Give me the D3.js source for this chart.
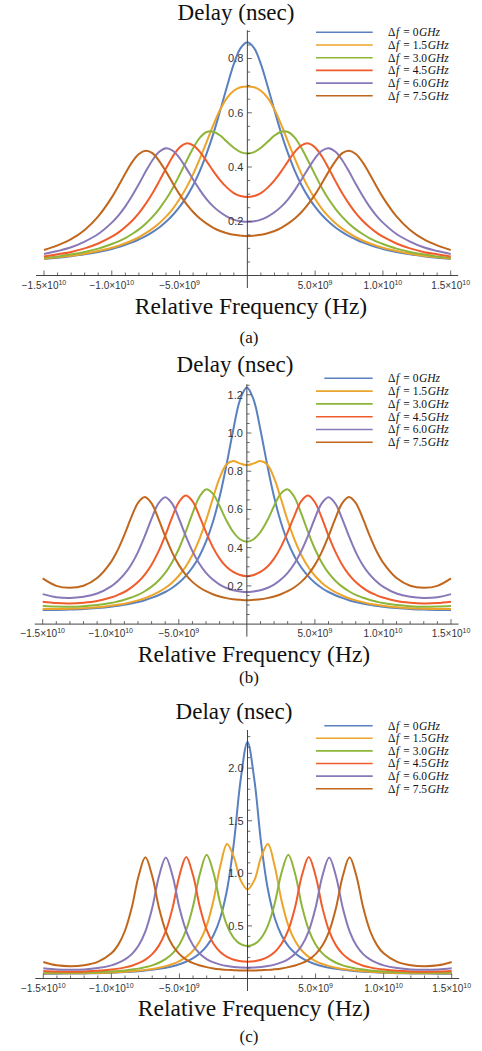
<!DOCTYPE html>
<html>
<head>
<meta charset="utf-8">
<script src="https://cdn.jsdelivr.net/npm/d3@7"></script>
<style>
body{margin:0;background:#fff}
svg{display:block}
.serif{font-family:"Liberation Serif","Times New Roman",Times,serif}
.sans{font-family:"Liberation Sans",Arial,Helvetica,sans-serif}
</style>
</head>
<body>
<svg id="chart" width="482" height="1051"></svg>
<script>
// relative frequency grid (GHz), shared by all three panels
var freqGHz = [-15,-14,-13,-12,-11,-10,-9.5,-9,-8.5,-8,-7.5,-7,-6.5,-6,-5.5,-5,-4.5,-4,-3.5,-3,-2.5,-2,-1.5,-1,-0.5,0,0.5,1,1.5,2,2.5,3,3.5,4,4.5,5,5.5,6,6.5,7,7.5,8,8.5,9,9.5,10,11,12,13,14,15];

// legend entries (Δf in GHz)
var deltaF = ["0", "1.5", "3.0", "4.5", "6.0", "7.5"];

// panel (a) delay, nsec
var blueA   = [0.061,0.065,0.071,0.078,0.087,0.098,0.105,0.113,0.122,0.133,0.145,0.160,0.177,0.198,0.223,0.253,0.289,0.333,0.386,0.450,0.524,0.609,0.697,0.779,0.838,0.860,0.838,0.779,0.697,0.609,0.524,0.450,0.386,0.333,0.289,0.253,0.223,0.198,0.177,0.160,0.145,0.133,0.122,0.113,0.105,0.098,0.087,0.078,0.071,0.065,0.061];
var orangeA = [0.062,0.067,0.073,0.080,0.090,0.102,0.110,0.119,0.129,0.141,0.156,0.173,0.193,0.217,0.246,0.282,0.324,0.374,0.431,0.493,0.556,0.612,0.655,0.681,0.694,0.697,0.694,0.681,0.655,0.612,0.556,0.493,0.431,0.374,0.324,0.282,0.246,0.217,0.193,0.173,0.156,0.141,0.129,0.119,0.110,0.102,0.090,0.080,0.073,0.067,0.062];
var greenA  = [0.065,0.070,0.078,0.087,0.099,0.116,0.126,0.138,0.153,0.170,0.191,0.216,0.246,0.281,0.323,0.371,0.421,0.469,0.508,0.529,0.530,0.516,0.493,0.471,0.455,0.450,0.455,0.471,0.493,0.516,0.530,0.529,0.508,0.469,0.421,0.371,0.323,0.281,0.246,0.216,0.191,0.170,0.153,0.138,0.126,0.116,0.099,0.087,0.078,0.070,0.065];
var redA    = [0.070,0.078,0.087,0.100,0.118,0.143,0.159,0.179,0.202,0.230,0.264,0.303,0.348,0.395,0.439,0.472,0.487,0.480,0.456,0.421,0.384,0.351,0.324,0.304,0.293,0.289,0.293,0.304,0.324,0.351,0.384,0.421,0.456,0.480,0.487,0.472,0.439,0.395,0.348,0.303,0.264,0.230,0.202,0.179,0.159,0.143,0.118,0.100,0.087,0.078,0.070];
var purpleA = [0.079,0.090,0.104,0.125,0.153,0.195,0.222,0.255,0.294,0.337,0.383,0.425,0.456,0.469,0.460,0.433,0.395,0.354,0.315,0.281,0.254,0.233,0.217,0.206,0.200,0.198,0.200,0.206,0.217,0.233,0.254,0.281,0.315,0.354,0.395,0.433,0.460,0.469,0.456,0.425,0.383,0.337,0.294,0.255,0.222,0.195,0.153,0.125,0.104,0.090,0.079];
var brownA  = [0.094,0.111,0.134,0.168,0.218,0.288,0.331,0.376,0.418,0.448,0.460,0.451,0.422,0.383,0.340,0.299,0.264,0.234,0.210,0.191,0.176,0.164,0.156,0.150,0.147,0.145,0.147,0.150,0.156,0.164,0.176,0.191,0.210,0.234,0.264,0.299,0.340,0.383,0.422,0.451,0.460,0.448,0.418,0.376,0.331,0.288,0.218,0.168,0.134,0.111,0.094];

// panel (b)
var blueB   = [0.074,0.074,0.076,0.079,0.084,0.091,0.096,0.101,0.108,0.116,0.125,0.137,0.151,0.168,0.189,0.216,0.251,0.296,0.354,0.431,0.533,0.666,0.832,1.016,1.174,1.238,1.174,1.016,0.832,0.666,0.533,0.431,0.354,0.296,0.251,0.216,0.189,0.168,0.151,0.137,0.125,0.116,0.108,0.101,0.096,0.091,0.084,0.079,0.076,0.074,0.074];
var orangeB = [0.079,0.079,0.080,0.083,0.088,0.096,0.101,0.107,0.115,0.124,0.135,0.150,0.167,0.189,0.217,0.253,0.300,0.362,0.442,0.542,0.657,0.765,0.835,0.854,0.841,0.832,0.841,0.854,0.835,0.765,0.657,0.542,0.442,0.362,0.300,0.253,0.217,0.189,0.167,0.150,0.135,0.124,0.115,0.107,0.101,0.096,0.088,0.083,0.080,0.079,0.079];
var greenB  = [0.095,0.092,0.091,0.094,0.100,0.110,0.118,0.127,0.139,0.153,0.172,0.196,0.227,0.268,0.323,0.393,0.481,0.578,0.664,0.705,0.683,0.618,0.542,0.482,0.444,0.431,0.444,0.482,0.542,0.618,0.683,0.705,0.664,0.578,0.481,0.393,0.323,0.268,0.227,0.196,0.172,0.153,0.139,0.127,0.118,0.110,0.100,0.094,0.091,0.092,0.095];
var redB    = [0.117,0.110,0.108,0.112,0.121,0.139,0.152,0.168,0.191,0.220,0.259,0.311,0.379,0.463,0.557,0.638,0.673,0.644,0.568,0.481,0.403,0.343,0.300,0.273,0.257,0.251,0.257,0.273,0.300,0.343,0.403,0.481,0.568,0.644,0.673,0.638,0.557,0.463,0.379,0.311,0.259,0.220,0.191,0.168,0.152,0.139,0.121,0.112,0.108,0.110,0.117];
var purpleB = [0.157,0.141,0.137,0.143,0.160,0.196,0.224,0.261,0.311,0.377,0.460,0.552,0.631,0.664,0.632,0.554,0.463,0.382,0.317,0.268,0.233,0.207,0.189,0.177,0.171,0.168,0.171,0.177,0.189,0.207,0.233,0.268,0.317,0.382,0.463,0.554,0.632,0.664,0.631,0.552,0.460,0.377,0.311,0.261,0.224,0.196,0.160,0.143,0.137,0.141,0.157];
var brownB  = [0.239,0.200,0.190,0.201,0.241,0.323,0.386,0.467,0.557,0.634,0.665,0.632,0.552,0.460,0.377,0.310,0.259,0.221,0.193,0.172,0.156,0.144,0.136,0.130,0.127,0.125,0.127,0.130,0.136,0.144,0.156,0.172,0.193,0.221,0.259,0.310,0.377,0.460,0.552,0.632,0.665,0.634,0.557,0.467,0.386,0.323,0.241,0.201,0.190,0.200,0.239];

// panel (c)
var blueC   = [0.046,0.046,0.047,0.048,0.051,0.055,0.058,0.061,0.065,0.070,0.076,0.083,0.092,0.103,0.117,0.135,0.160,0.193,0.240,0.308,0.411,0.576,0.846,1.290,1.894,2.248,1.894,1.290,0.846,0.576,0.411,0.308,0.240,0.193,0.160,0.135,0.117,0.103,0.092,0.083,0.076,0.070,0.065,0.061,0.058,0.055,0.051,0.048,0.047,0.046,0.046];
var orangeC = [0.050,0.049,0.049,0.051,0.053,0.058,0.061,0.065,0.070,0.075,0.082,0.091,0.103,0.118,0.138,0.166,0.206,0.264,0.356,0.503,0.742,1.067,1.278,1.153,0.933,0.847,0.933,1.153,1.278,1.067,0.742,0.503,0.356,0.264,0.206,0.166,0.138,0.118,0.103,0.091,0.082,0.075,0.070,0.065,0.061,0.058,0.053,0.051,0.049,0.049,0.050];
var greenC  = [0.057,0.055,0.055,0.056,0.060,0.067,0.071,0.077,0.085,0.094,0.108,0.125,0.150,0.186,0.239,0.323,0.462,0.687,0.994,1.176,1.006,0.713,0.503,0.385,0.326,0.308,0.326,0.385,0.503,0.713,1.006,1.176,0.994,0.687,0.462,0.323,0.239,0.186,0.150,0.125,0.108,0.094,0.085,0.077,0.071,0.067,0.060,0.056,0.055,0.055,0.057];
var redC    = [0.071,0.066,0.065,0.067,0.073,0.085,0.094,0.106,0.122,0.146,0.180,0.232,0.315,0.451,0.674,0.978,1.156,0.981,0.681,0.462,0.330,0.252,0.205,0.178,0.164,0.160,0.164,0.178,0.205,0.252,0.330,0.462,0.681,0.981,1.156,0.978,0.674,0.451,0.315,0.232,0.180,0.146,0.122,0.106,0.094,0.085,0.073,0.067,0.065,0.066,0.071];
var purpleC = [0.097,0.086,0.083,0.086,0.099,0.125,0.148,0.181,0.232,0.314,0.449,0.671,0.973,1.151,0.974,0.672,0.451,0.316,0.235,0.185,0.153,0.132,0.118,0.109,0.104,0.103,0.104,0.109,0.118,0.132,0.153,0.185,0.235,0.316,0.451,0.672,0.974,1.151,0.973,0.671,0.449,0.314,0.232,0.181,0.148,0.125,0.099,0.086,0.083,0.086,0.097];
var brownC  = [0.157,0.125,0.117,0.126,0.158,0.239,0.320,0.454,0.674,0.975,1.152,0.974,0.671,0.449,0.314,0.232,0.180,0.146,0.124,0.108,0.096,0.088,0.082,0.079,0.076,0.076,0.076,0.079,0.082,0.088,0.096,0.108,0.124,0.146,0.180,0.232,0.314,0.449,0.671,0.974,1.152,0.975,0.674,0.454,0.320,0.239,0.158,0.126,0.117,0.125,0.157];

// tick values
var xTicksHz = [-1.5e10, -1.0e10, -5.0e9, 5.0e9, 1.0e10, 1.5e10];
var yTicksA = [0.2, 0.4, 0.6, 0.8];
var yTicksB = [0.2, 0.4, 0.6, 0.8, 1.0, 1.2];
var yTicksC = [0.5, 1.0, 1.5, 2.0];

var colors = ["#5a80bf", "#eca42b", "#8db53a", "#f05c2c", "#8878b8", "#c0671d"];

// layout of the three stacked panels
var panels = [
    {cap: "(a)", series: [blueA, orangeA, greenA, redA, purpleA, brownA], yTicks: yTicksA, yMinor: 0.05, yMax: 0.904,
     left: 44, right: 450.7, base: 275.5, top: 30.3, titleX: 236, titleY: 20, xlabX: 251, xlabY: 314, capY: 343,
     legY: 32.3, legGap: 12.7, firstLegX: 316},
    {cap: "(b)", series: [blueB, orangeB, greenB, redB, purpleB, brownB], yTicks: yTicksB, yMinor: 0.05, yMax: 1.255,
     left: 42.7, right: 451, base: 624.1, top: 384.3, titleX: 235, titleY: 371.7, xlabX: 254, xlabY: 662, capY: 682.5,
     legY: 378.3, legGap: 12.8, firstLegX: 324.3},
    {cap: "(c)", series: [blueC, orangeC, greenC, redC, purpleC, brownC], yTicks: yTicksC, yMinor: 0.1, yMax: 2.363,
     left: 43.3, right: 451.7, base: 978.5, top: 730, titleX: 234, titleY: 719, xlabX: 254, xlabY: 1016, capY: 1042,
     legY: 725.7, legGap: 12.6, firstLegX: 324.3}
];

var svg = d3.select("#chart");
var axisColor = "#444";

function xLabelParts(v) {
    var e = Math.floor(Math.log10(Math.abs(v)) + 1e-9);
    var m = v / Math.pow(10, e);
    var s = (m < 0 ? "\u2212" : "") + Math.abs(m).toFixed(1) + "\u00d710";
    return [s, String(e)];
}

panels.forEach(function (p) {
    var g = svg.append("g");
    var x = d3.scaleLinear().domain([-1.5e10, 1.5e10]).range([p.left, p.right]);
    var y = d3.scaleLinear().domain([0, p.yMax]).range([p.base, p.top]);
    var x0 = x(0);

    // curves
    var line = d3.line()
        .x(function (d) { return x(d[0] * 1e9); })
        .y(function (d) { return y(d[1]); })
        .curve(d3.curveCatmullRom.alpha(0.5));
    p.series.forEach(function (vals, i) {
        var pts = freqGHz.map(function (f, k) { return [f, vals[k]]; });
        g.append("path")
            .attr("d", line(pts))
            .attr("fill", "none")
            .attr("stroke", colors[i])
            .attr("stroke-width", 2)
            .attr("stroke-linejoin", "round");
    });

    // axes
    g.append("line").attr("x1", p.left - 8).attr("x2", p.right + 7.5)
        .attr("y1", p.base).attr("y2", p.base)
        .attr("stroke", axisColor).attr("stroke-width", 1);
    g.append("line").attr("x1", x0).attr("x2", x0)
        .attr("y1", p.top).attr("y2", p.base + 12.5)
        .attr("stroke", axisColor).attr("stroke-width", 1);

    // x ticks: minor every 1e9, major every 5e9
    d3.range(-15, 16).forEach(function (k) {
        if (k === 0) return;
        var major = (k % 5 === 0);
        g.append("line").attr("x1", x(k * 1e9)).attr("x2", x(k * 1e9))
            .attr("y1", p.base).attr("y2", p.base - (major ? 5 : 3))
            .attr("stroke", axisColor).attr("stroke-width", 0.8);
    });
    xTicksHz.forEach(function (v) {
        var parts = xLabelParts(v);
        var t = g.append("text")
            .attr("class", "sans")
            .attr("x", x(v)).attr("y", p.base + 13)
            .attr("text-anchor", "middle")
            .attr("font-size", 10)
            .attr("fill", "#333");
        t.append("tspan").text(parts[0]);
        t.append("tspan").attr("dy", -4).attr("font-size", 7).text(parts[1]);
    });

    // y ticks
    var nMinor = Math.floor(p.yMax / p.yMinor + 1e-6);
    d3.range(1, nMinor + 1).forEach(function (k) {
        var v = k * p.yMinor;
        var major = p.yTicks.some(function (t) { return Math.abs(t - v) < 1e-6; });
        g.append("line").attr("x1", x0).attr("x2", x0 + (major ? 4.5 : 2.8))
            .attr("y1", y(v)).attr("y2", y(v))
            .attr("stroke", axisColor).attr("stroke-width", 0.8);
    });
    p.yTicks.forEach(function (v) {
        g.append("text")
            .attr("class", "sans")
            .attr("x", x0 - 4).attr("y", y(v)).attr("dy", "0.36em")
            .attr("text-anchor", "end")
            .attr("font-size", 11)
            .attr("fill", "#333")
            .text(v.toFixed(1));
    });

    // titles
    g.append("text").attr("class", "serif").attr("x", p.titleX).attr("y", p.titleY)
        .attr("text-anchor", "middle").attr("font-size", 23)
        .attr("fill", "#111").text("Delay (nsec)");
    g.append("text").attr("class", "serif").attr("x", p.xlabX).attr("y", p.xlabY)
        .attr("text-anchor", "middle").attr("font-size", 23.5)
        .attr("fill", "#111").text("Relative Frequency (Hz)");
    g.append("text").attr("class", "serif").attr("x", 249).attr("y", p.capY)
        .attr("text-anchor", "middle").attr("font-size", 17)
        .attr("fill", "#111").text(p.cap);

    // legend
    deltaF.forEach(function (d, i) {
        var ly = p.legY + i * p.legGap;
        g.append("line").attr("x1", i === 0 ? p.firstLegX : 316).attr("x2", 372.7)
            .attr("y1", ly).attr("y2", ly)
            .attr("stroke", colors[i]).attr("stroke-width", 1.6);
        var t = g.append("text").attr("class", "serif")
            .attr("x", 388).attr("y", ly + 3.8)
            .attr("font-size", 11.5).attr("fill", "#111");
        t.append("tspan").text("\u0394");
        t.append("tspan").attr("dx", 0.6).attr("font-style", "italic").text("f");
        t.append("tspan").attr("dx", 1.2).text(" = " + d);
        t.append("tspan").attr("dx", 0.6).attr("font-style", "italic").text("GHz");
    });
});
</script>
</body>
</html>
